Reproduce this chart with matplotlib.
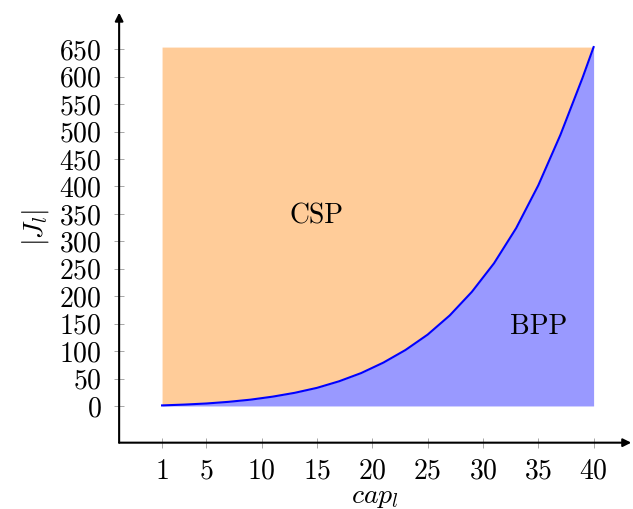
import numpy as np
import matplotlib.pyplot as plt

plt.rcParams['font.family'] = 'serif'
plt.rcParams['font.serif'] = ['cmr10']
plt.rcParams['mathtext.fontset'] = 'cm'
plt.rcParams['axes.formatter.use_mathtext'] = True

# values
cap = [1, 3, 5, 7, 9, 11, 13, 15, 17, 19, 21, 23, 25, 27, 29, 31, 33, 35, 37, 39, 40]
jl = [1, 2.5, 4.5, 7.5, 11.5, 17, 24, 33, 45, 60, 79, 102, 130, 165, 208, 260,
      324, 402, 494, 598, 654]
top = 654
xticks = [1, 5, 10, 15, 20, 25, 30, 35, 40]
yticks = list(range(0, 651, 50))

fig = plt.figure(figsize=(6.33, 5.09), dpi=100)
ax = fig.add_axes([0.1882, 0.1303, 0.809, 0.8448])

ax.fill_between(cap, jl, top, color='#FFCC99', lw=0, zorder=1)
ax.fill_between(cap, 0, jl, color='#9999FF', lw=0, zorder=1)
ax.plot(cap, jl, color='blue', lw=1.5, zorder=2)

ax.text(15, 345, 'CSP', fontsize=20, ha='center', va='center')
ax.text(35, 145, 'BPP', fontsize=20, ha='center', va='center')

ax.set_xlim(-2.88, 43.4)
ax.set_ylim(-66.9, 716.7)
ax.set_xticks(xticks)
ax.set_yticks(yticks)
ax.tick_params(direction='inout', length=7, width=0.6, color='#999999',
               labelsize=20)
ax.tick_params(axis='y', pad=9)
ax.tick_params(axis='x', pad=8)

for s in ax.spines.values():
    s.set_visible(False)
ax.annotate('', xy=(1.0, 0), xytext=(0, 0), xycoords='axes fraction',
            arrowprops=dict(arrowstyle='-|>', lw=1.5, color='black',
                            mutation_scale=12, shrinkA=0, shrinkB=0))
ax.annotate('', xy=(0, 1.0), xytext=(0, 0), xycoords='axes fraction',
            arrowprops=dict(arrowstyle='-|>', lw=1.5, color='black',
                            mutation_scale=12, shrinkA=0, shrinkB=0))

ax.set_xlabel('$cap_l$', fontsize=20, labelpad=-1)
ax.set_ylabel('$|J_l|$', fontsize=20, labelpad=6)

plt.savefig('out.png', dpi=100)
